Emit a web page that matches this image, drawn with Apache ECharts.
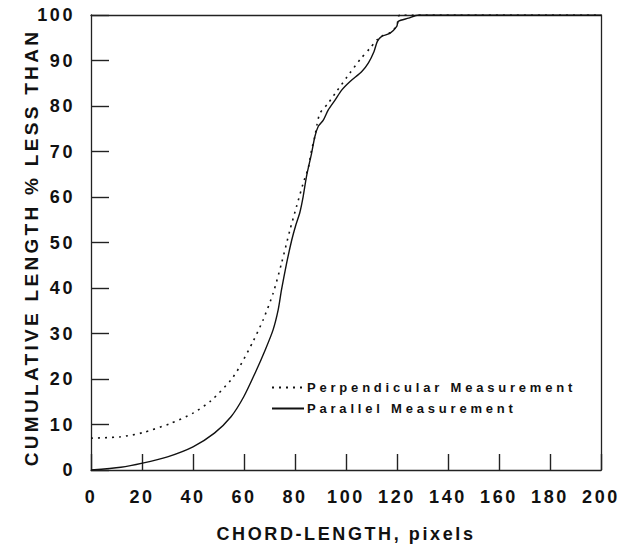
<!DOCTYPE html>
<html>
<head>
<meta charset="utf-8">
<script src="https://cdn.jsdelivr.net/npm/echarts@6/dist/echarts.min.js"></script>
<style>
  html, body { margin: 0; padding: 0; background: #fff; }
  #chart { width: 619px; height: 544px; }
  #chart text[style*="18px"] { letter-spacing: 2.6px; }
  #chart text[style*="19px"] { letter-spacing: 3.3px; }
  #chart text[style*="13px"] { letter-spacing: 3.8px; }
</style>
</head>
<body>
<div id="chart"></div>
<script>
// Perpendicular measurement (dotted)
const perpX = [0, 11.7, 20.2, 31, 40, 47, 54.9, 58.3, 63.6, 67.5, 71.4, 74.7, 78, 80.6, 83.2, 85.2, 86.5, 87.8, 88.6, 89.8, 93, 96.3, 101.6, 105.5, 109.4, 112.3, 114, 117.3, 119.9, 121.2, 200];
const perpY = [7.0, 7.3, 8.2, 10.2, 12.5, 15.2, 19.8, 22.7, 28.3, 33.0, 38.8, 45.4, 52.7, 57.9, 63.0, 66.4, 70.3, 73.3, 75.9, 78.4, 80.6, 83.2, 87.3, 90.2, 92.7, 94.6, 95.4, 96.1, 97.6, 100, 100];
// Parallel measurement (solid)
const parX = [0, 11.7, 20.2, 30, 40, 48.4, 54.9, 59.9, 64.5, 68.4, 71.4, 73.4, 74.7, 76.7, 78.7, 80.3, 81.9, 83.2, 84.5, 86.5, 87.8, 89.1, 91.1, 93, 95.7, 98.3, 101.6, 106.2, 108.8, 111, 112.3, 114, 117.3, 119.9, 120.5, 124.5, 128.4, 200];
const parY = [0, 0.6, 1.5, 2.9, 5.1, 8.1, 11.7, 16.1, 21.5, 26.5, 30.8, 35.2, 39.6, 45.4, 50.5, 53.8, 56.6, 60.1, 64.5, 69.6, 73.3, 75.5, 76.9, 79.1, 81.3, 83.5, 85.4, 87.6, 89.5, 92, 94.2, 95.3, 96, 97.5, 98.6, 99.3, 100, 100];

const seriesNames = ['Perpendicular Measurement', 'Parallel Measurement'];
const xAxisName = 'CHORD-LENGTH, pixels';
const yAxisName = 'CUMULATIVE LENGTH % LESS THAN';

const pair = (xs, ys) => xs.map((x, i) => [x, ys[i]]);
const ink = '#111';
const frame = '#222';
const font = 'Liberation Sans, Arial, Helvetica, sans-serif';

const borderAxis = {
  axisLine: { show: true, onZero: false, lineStyle: { color: frame, width: 1.3 } },
  axisTick: { show: false }, axisLabel: { show: false }, splitLine: { show: false }
};

const chart = echarts.init(document.getElementById('chart'), null, { renderer: 'svg' });
chart.setOption({
  animation: false,
  backgroundColor: '#fff',
  grid: { left: 91, right: 18, top: 15, bottom: 74, outerBoundsMode: 'none' },
  legend: {
    orient: 'vertical',
    left: 266,
    top: 376,
    itemWidth: 32,
    itemHeight: 10,
    itemGap: 8,
    itemStyle: { opacity: 0 },
    textStyle: { fontFamily: font, fontSize: 13, fontWeight: 'bold', color: ink, padding: [0, 0, 0, -2] },
    data: seriesNames
  },
  xAxis: [{
    type: 'value', min: 0, max: 200, interval: 20,
    name: xAxisName, nameLocation: 'middle', nameGap: 55, nameMoveOverlap: false,
    nameTextStyle: { fontFamily: font, fontSize: 18, fontWeight: 'bold', color: ink },
    axisLine: { show: true, onZero: false, lineStyle: { color: frame, width: 1.3 } },
    axisTick: { show: true, inside: true, length: 16, lineStyle: { color: frame, width: 1.4 } },
    axisLabel: { fontFamily: font, fontSize: 18, fontWeight: 'bold', color: ink, margin: 18 },
    splitLine: { show: false }
  }, Object.assign({ type: 'value', min: 0, max: 200, position: 'top' }, borderAxis)],
  yAxis: [{
    type: 'value', min: 0, max: 100, interval: 10,
    name: yAxisName, nameLocation: 'middle', nameGap: 50, nameMoveOverlap: false,
    nameTextStyle: { fontFamily: font, fontSize: 19, fontWeight: 'bold', color: ink, padding: [0, 10, 0, 0] },
    axisLine: { show: true, onZero: false, lineStyle: { color: frame, width: 1.3 } },
    axisTick: { show: true, inside: true, length: 18, lineStyle: { color: frame, width: 1.4 } },
    axisLabel: { fontFamily: font, fontSize: 18, fontWeight: 'bold', color: ink, margin: 16 },
    splitLine: { show: false }
  }, Object.assign({ type: 'value', min: 0, max: 100, position: 'right' }, borderAxis)],
  series: [
    {
      name: seriesNames[0], type: 'line', data: pair(perpX, perpY),
      symbol: 'none', smooth: 0.25,
      lineStyle: { color: ink, width: 1.6, type: [2, 5] },
      itemStyle: { color: ink }
    },
    {
      name: seriesNames[1], type: 'line', data: pair(parX, parY),
      symbol: 'none', smooth: 0.25,
      lineStyle: { color: ink, width: 1.4, type: 'solid' },
      itemStyle: { color: ink }
    }
  ]
});
</script>
</body>
</html>
